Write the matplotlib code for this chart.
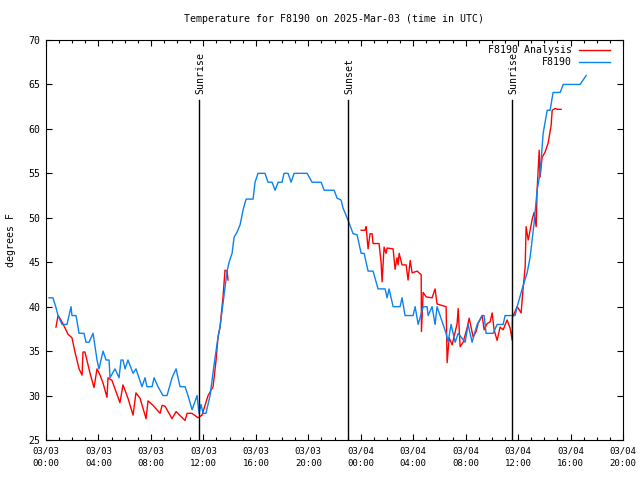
import matplotlib.pyplot as plt
import numpy as np

plt.rcParams["font.family"] = "DejaVu Sans Mono"
plt.rcParams["font.size"] = 7.1

# hours since 03/03 00:00 UTC
obs_hours = [0.23, 0.53, 0.74, 0.92, 1.22, 1.60, 1.91, 1.98, 2.29, 2.52, 2.90, 3.05, 3.28, 3.59,
             3.89, 4.04, 4.35, 4.58, 4.81, 4.88, 5.26, 5.57, 5.72, 5.87, 6.03, 6.25, 6.64, 6.86,
             7.32, 7.55, 7.70, 8.09, 8.24, 8.54, 8.92, 9.23, 9.61, 9.92, 10.22, 10.60, 10.83,
             11.14, 11.52, 11.67, 11.82, 11.98, 12.20, 12.51, 12.81, 13.12, 13.27, 13.81, 13.96,
             14.19, 14.34, 14.57, 14.80, 15.03, 15.26, 15.79, 15.94, 16.17, 16.70, 16.93, 17.24,
             17.47, 17.70, 18.00, 18.15, 18.46, 18.69, 18.92, 19.91, 20.29, 20.98, 21.21, 21.97,
             22.20, 22.50, 22.65, 23.04, 23.42, 23.72, 24.03, 24.26, 24.56, 24.94, 25.32, 25.86,
             26.01, 26.16, 26.47, 27.00, 27.15, 27.38, 27.99, 28.15, 28.38, 28.76, 29.06, 29.14,
             29.44, 29.67, 29.82, 30.05, 30.51, 30.66, 30.89, 31.20, 31.43, 31.96, 32.19, 32.49,
             32.88, 33.26, 33.41, 33.56, 34.10, 34.40, 34.86, 35.01, 35.77, 35.93, 36.31, 36.69,
             36.92, 37.22, 37.45, 37.68, 37.91, 38.22, 38.44, 38.67, 39.21, 39.44, 40.73, 41.19]
obs_temp = [41, 41, 40, 39, 38, 38, 40, 39, 39, 37, 37, 36, 36, 37,
            34, 33, 35, 34, 34, 32, 33, 32, 34, 34, 33, 34, 32.5, 33,
            31, 32, 31, 31, 32, 31, 30, 30, 32, 33, 31, 31, 30,
            28.4, 30, 28, 29, 28, 28, 30, 33.4, 36.6, 37.7, 44, 45,
            46, 47.8, 48.4, 49.2, 50.9, 52.1, 52.1, 54, 55, 55, 54, 54,
            53.1, 54, 54, 55, 55, 54, 55, 55, 54, 54, 53.1, 53.1,
            52.2, 52, 51.1, 49.7, 48.2, 48.1, 46, 46, 44, 44, 42, 42,
            41, 42, 40, 40, 41, 39, 39, 40, 38, 40, 40, 39,
            40, 38, 40, 39, 37, 36, 38, 36, 37, 36, 38, 36,
            38, 39, 39, 37, 37, 38, 38, 39, 39, 40, 42, 43.8,
            45.6, 49.4, 53.1, 55, 59.5, 62.1, 62.1, 64.1, 64.1, 65, 65, 66]

ana_hours = [0.76, 0.92, 1.14, 1.45, 1.68, 1.98, 2.21, 2.52, 2.75, 2.82, 2.97, 3.36, 3.66, 3.89,
             4.12, 4.35, 4.65, 4.73, 5.03, 5.64, 5.87, 6.25, 6.64, 6.86, 7.17, 7.63, 7.78, 8.16,
             8.70, 8.85, 9.08, 9.61, 9.92, 10.60, 10.76, 11.14, 11.59, 11.90, 11.98, 12.36, 12.74,
             12.97, 13.12, 13.27, 13.50, 13.65, 13.81, 13.88, 18.0,
             24.03, 24.33, 24.41, 24.56, 24.71, 24.87, 24.94, 25.40, 25.55, 25.63, 25.71, 25.78,
             25.93, 26.01, 26.47, 26.62, 26.77, 26.85, 26.93, 27.15, 27.46, 27.61, 27.77, 27.92,
             28.30, 28.61, 28.63, 28.76, 28.99, 29.44, 29.67, 29.82, 30.05, 30.51, 30.59, 30.74,
             30.97, 31.35, 31.43, 31.58, 31.81, 32.11, 32.27, 32.57, 32.80, 32.95, 33.26, 33.41,
             33.64, 33.87, 34.02, 34.17, 34.40, 34.63, 34.86, 35.16, 35.39, 35.55, 35.57, 35.93,
             36.23, 36.38, 36.54, 36.61, 36.77, 36.92, 37.07, 37.22, 37.38, 37.45, 37.61, 37.68,
             37.83, 38.06, 38.29, 38.52, 38.60, 38.83, 38.98, 39.28]
ana_temp = [37.7, 39, 38.5, 37.6, 36.9, 36.5, 34.9, 33, 32.3, 34.9, 34.9, 32.5, 30.9, 33,
            32.3, 31.4, 29.8, 32, 31.7, 29.2, 31.2, 29.7, 27.8, 30.3, 29.7, 27.4, 29.4, 28.9,
            28, 28.9, 28.8, 27.4, 28.2, 27.2, 28, 28, 27.5, 27.8, 28.2, 30, 31,
            34, 36.6, 37.7, 41.1, 44.1, 44, 43, np.nan,
            48.6, 48.6, 49, 46.5, 48.2, 48.2, 47.1, 47.1, 45, 42.8, 44.9, 46.7,
            46, 46.6, 46.5, 44.2, 45.5, 44.7, 46, 44.7, 44.7, 43, 45.2, 43.8,
            44, 43.6, 37.2, 41.6, 41.1, 41, 42, 40.3, 40.2, 40, 33.7, 36.5,
            35.7, 38.1, 39.8, 35.5, 36, 37.6, 38.7, 36.6, 37.2, 38.1, 39, 37.4,
            38.1, 38.3, 39.3, 37.4, 36.2, 37.7, 37.4, 38.5, 37.6, 36.2, 38.8, 40,
            39.3, 42, 44.5, 49, 47.5, 48.6, 49.8, 50.6, 49, 53.1, 57.6, 54.6,
            56.8, 57.4, 58.4, 60.4, 62.1, 62.3, 62.2, 62.2]

sun_events = [11.67, 23.04, 35.55]
sun_labels = ["Sunrise", "Sunset", "Sunrise"]

tick_hours = list(range(0, 45, 4))
tick_labels = ["03/03\n00:00", "03/03\n04:00", "03/03\n08:00", "03/03\n12:00", "03/03\n16:00",
               "03/03\n20:00", "03/04\n00:00", "03/04\n04:00", "03/04\n08:00", "03/04\n12:00",
               "03/04\n16:00", "03/04\n20:00"]

fig = plt.figure(figsize=(6.4, 4.8), dpi=100)
ax = fig.add_axes([46 / 640, 40 / 480, 577 / 640, 400 / 480])

ax.plot(ana_hours, ana_temp, color="#ff0000", lw=1, label="F8190 Analysis")
ax.plot(obs_hours, obs_temp, color="#0a82f0", lw=1, label="F8190")

for t, lab in zip(sun_events, sun_labels):
    ax.plot([t, t], [0, 0.85], color="black", lw=1, transform=ax.get_xaxis_transform())
    ax.text(t + 0.1, 0.866, lab, rotation=90, ha="center", va="bottom",
            transform=ax.get_xaxis_transform())

ax.set_xlim(0, 44)
ax.set_ylim(25, 70)
ax.set_xticks(tick_hours)
ax.set_xticklabels(tick_labels, linespacing=1.5, fontsize=6.5)
ax.set_xticks(range(0, 45), minor=True)
ax.set_yticks(range(25, 71, 5))
ax.tick_params(axis="y", labelsize=7.1)
ax.tick_params(which="both", direction="in", top=True, right=True, width=0.8)
ax.tick_params(which="major", length=4.3)
ax.tick_params(which="minor", length=2.2)
ax.tick_params(axis="x", pad=5)
ax.tick_params(axis="y", pad=4)
for s in ax.spines.values():
    s.set_linewidth(0.8)

ax.set_ylabel("degrees F", fontsize=7.1, labelpad=9)
ax.set_title("Temperature for F8190 on 2025-Mar-03 (time in UTC)", fontsize=7.1, pad=13)
ax.legend(loc="upper right", frameon=False, markerfirst=False, handlelength=3.1,
          labelspacing=0.2, borderaxespad=0, bbox_to_anchor=(0.984, 0.997),
          handletextpad=0.7, fontsize=7.1)

fig.savefig("out.png", dpi=100)
